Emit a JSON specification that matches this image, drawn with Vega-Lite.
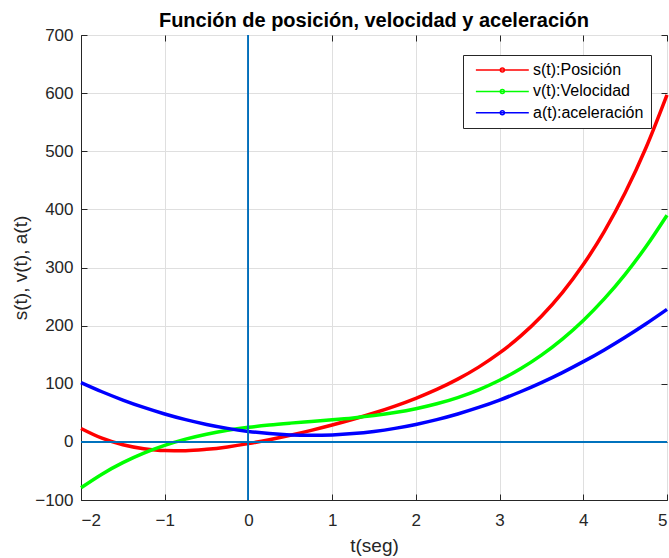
{
  "$schema": "https://vega.github.io/schema/vega-lite/v6.json",
  "width": 586,
  "height": 465,
  "autosize": {"type": "none"},
  "padding": {"left": 81, "top": 35, "right": 2, "bottom": 58},
  "background": "white",
  "title": {
    "text": "Función de posición, velocidad y aceleración",
    "font": "Liberation Sans",
    "fontSize": 20,
    "fontWeight": "bold",
    "color": "#000000",
    "anchor": "middle",
    "frame": "group",
    "baseline": "bottom",
    "offset": -25
  },
  "config": {
    "view": {"stroke": "#262626", "strokeWidth": 1},
    "axis": {
      "labelFont": "Liberation Sans",
      "labelFontSize": 17,
      "labelColor": "#262626",
      "titleFont": "Liberation Sans",
      "titleFontSize": 19,
      "titleFontWeight": "normal",
      "titleColor": "#262626",
      "domainColor": "#262626",
      "domainWidth": 1,
      "tickColor": "#262626",
      "tickWidth": 1,
      "tickSize": -6,
      "gridColor": "#dfdfdf",
      "gridWidth": 1
    }
  },
  "data": {
    "values": [
      {"t": -2.0, "s(t):Posición": 23.0, "v(t):Velocidad": -79.0, "a(t):aceleración": 102.0},
      {"t": -1.75, "s(t):Posición": 6.27, "v(t):Velocidad": -55.5, "a(t):aceleración": 86.25},
      {"t": -1.5, "s(t):Posición": -5.06, "v(t):Velocidad": -35.75, "a(t):aceleración": 72.0},
      {"t": -1.25, "s(t):Posición": -11.89, "v(t):Velocidad": -19.38, "a(t):aceleración": 59.25},
      {"t": -1.0, "s(t):Posición": -15.0, "v(t):Velocidad": -6.0, "a(t):aceleración": 48.0},
      {"t": -0.75, "s(t):Posición": -15.11, "v(t):Velocidad": 4.75, "a(t):aceleración": 38.25},
      {"t": -0.5, "s(t):Posición": -12.81, "v(t):Velocidad": 13.25, "a(t):aceleración": 30.0},
      {"t": -0.25, "s(t):Posición": -8.64, "v(t):Velocidad": 19.88, "a(t):aceleración": 23.25},
      {"t": 0.0, "s(t):Posición": -3.0, "v(t):Velocidad": 25.0, "a(t):aceleración": 18.0},
      {"t": 0.25, "s(t):Posición": 3.77, "v(t):Velocidad": 29.0, "a(t):aceleración": 14.25},
      {"t": 0.5, "s(t):Posición": 11.44, "v(t):Velocidad": 32.25, "a(t):aceleración": 12.0},
      {"t": 0.75, "s(t):Posición": 19.86, "v(t):Velocidad": 35.13, "a(t):aceleración": 11.25},
      {"t": 1.0, "s(t):Posición": 29.0, "v(t):Velocidad": 38.0, "a(t):aceleración": 12.0},
      {"t": 1.25, "s(t):Posición": 38.9, "v(t):Velocidad": 41.25, "a(t):aceleración": 14.25},
      {"t": 1.5, "s(t):Posición": 49.69, "v(t):Velocidad": 45.25, "a(t):aceleración": 18.0},
      {"t": 1.75, "s(t):Posición": 61.61, "v(t):Velocidad": 50.38, "a(t):aceleración": 23.25},
      {"t": 2.0, "s(t):Posición": 75.0, "v(t):Velocidad": 57.0, "a(t):aceleración": 30.0},
      {"t": 2.25, "s(t):Posición": 90.27, "v(t):Velocidad": 65.5, "a(t):aceleración": 38.25},
      {"t": 2.5, "s(t):Posición": 107.94, "v(t):Velocidad": 76.25, "a(t):aceleración": 48.0},
      {"t": 2.75, "s(t):Posición": 128.61, "v(t):Velocidad": 89.63, "a(t):aceleración": 59.25},
      {"t": 3.0, "s(t):Posición": 153.0, "v(t):Velocidad": 106.0, "a(t):aceleración": 72.0},
      {"t": 3.25, "s(t):Posición": 181.9, "v(t):Velocidad": 125.75, "a(t):aceleración": 86.25},
      {"t": 3.5, "s(t):Posición": 216.19, "v(t):Velocidad": 149.25, "a(t):aceleración": 102.0},
      {"t": 3.75, "s(t):Posición": 256.86, "v(t):Velocidad": 176.88, "a(t):aceleración": 119.25},
      {"t": 4.0, "s(t):Posición": 305.0, "v(t):Velocidad": 209.0, "a(t):aceleración": 138.0},
      {"t": 4.25, "s(t):Posición": 361.77, "v(t):Velocidad": 246.0, "a(t):aceleración": 158.25},
      {"t": 4.5, "s(t):Posición": 428.44, "v(t):Velocidad": 288.25, "a(t):aceleración": 180.0},
      {"t": 4.75, "s(t):Posición": 506.36, "v(t):Velocidad": 336.13, "a(t):aceleración": 203.25},
      {"t": 5.0, "s(t):Posición": 597.0, "v(t):Velocidad": 390.0, "a(t):aceleración": 228.0}
    ]
  },
  "layer": [
    {
      "description": "s(t), v(t) and a(t) curves",
      "transform": [
        {"fold": ["s(t):Posición", "v(t):Velocidad", "a(t):aceleración"], "as": ["serie", "valor"]}
      ],
      "mark": {"type": "line", "strokeWidth": 3.5, "interpolate": "monotone"},
      "encoding": {
        "x": {
          "field": "t",
          "type": "quantitative",
          "scale": {"domain": [-2, 5], "nice": false, "zero": false},
          "axis": {"orient": "bottom", "grid": true, "title": "t(seg)", "values": [-2, -1, 0, 1, 2, 3, 4, 5], "labelPadding": 18, "titlePadding": 8}
        },
        "y": {
          "field": "valor",
          "type": "quantitative",
          "scale": {"domain": [-100, 700], "nice": false, "zero": false},
          "axis": {"orient": "left", "grid": true, "title": "s(t), v(t), a(t)", "values": [-100, 0, 100, 200, 300, 400, 500, 600, 700], "labelPadding": 14, "titlePadding": 4}
        },
        "color": {
          "field": "serie",
          "type": "nominal",
          "scale": {
            "domain": ["s(t):Posición", "v(t):Velocidad", "a(t):aceleración"],
            "range": ["#ff0000", "#00ff00", "#0000ff"]
          },
          "legend": {
            "title": null,
            "orient": "none",
            "legendX": 382,
            "legendY": 20,
            "strokeColor": "#262626",
            "fillColor": "white",
            "padding": 7,
            "cornerRadius": 0,
            "symbolType": "M-0.4,0H9.6M4.22,0A0.38,0.38,0,1,0,4.98,0A0.38,0.38,0,1,0,4.22,0",
            "symbolSize": 112,
            "symbolStrokeWidth": 1.5,
            "labelFont": "Liberation Sans",
            "labelFontSize": 16,
            "labelColor": "#000000",
            "labelOffset": 47,
            "rowPadding": 5.4
          }
        }
      }
    },
    {
      "description": "horizontal reference line at zero; carries the right-hand axis ticks",
      "mark": {"type": "rule", "color": "#0072BD", "strokeWidth": 1},
      "encoding": {
        "y": {
          "datum": 0,
          "type": "quantitative",
          "scale": {"domain": [-100, 700], "nice": false, "zero": false},
          "axis": {"orient": "right", "labels": false, "grid": false, "domain": false, "title": null, "values": [-100, 0, 100, 200, 300, 400, 500, 600, 700]}
        }
      }
    },
    {
      "description": "vertical reference line at t = 0; carries the top axis ticks",
      "mark": {"type": "rule", "color": "#0072BD", "strokeWidth": 1},
      "encoding": {
        "x": {
          "datum": 0,
          "type": "quantitative",
          "scale": {"domain": [-2, 5], "nice": false, "zero": false},
          "axis": {"orient": "top", "labels": false, "grid": false, "domain": false, "title": null, "values": [-2, -1, 0, 1, 2, 3, 4, 5]}
        }
      }
    }
  ],
  "resolve": {"axis": {"x": "independent", "y": "independent"}}
}
